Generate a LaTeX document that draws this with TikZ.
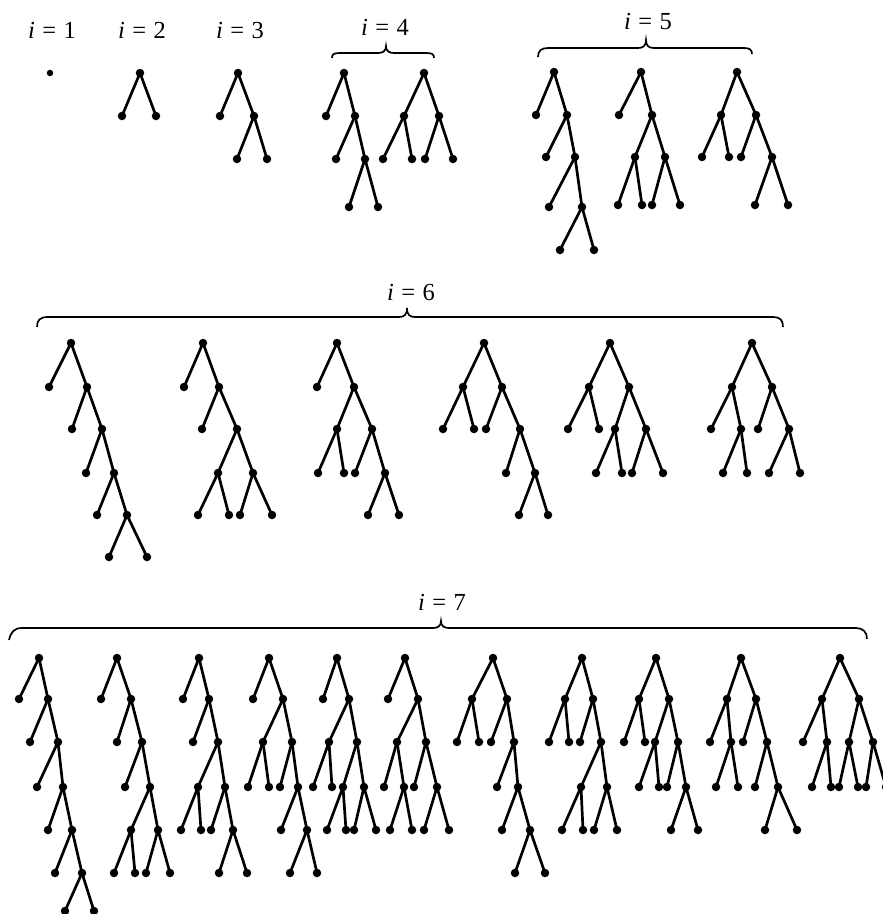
\documentclass[tikz,border=0pt]{standalone}
\usepackage{fontspec}
\setmainfont{Liberation Serif}
\newcommand\mytree[3]{%
  \foreach \n/\x/\y in {#2} {\node[dot] (#1\n) at (\x,\y) {};}
  \foreach \a/\b in {#3} {\draw[edge] (#1\a) -- (#1\b);}
}
\begin{document}
\begin{tikzpicture}[x=1pt,y=-1pt,
  dot/.style={circle,fill=black,inner sep=0pt,minimum size=8.5pt},
  edge/.style={line width=2.7pt,shorten <=-1pt,shorten >=-1pt},
  bracepath/.style={line width=1.7pt},
  lab/.style={anchor=base,font=\fontsize{24.5}{28}\selectfont,inner sep=0pt}]
\useasboundingbox (0,0) rectangle (883,914);
\clip (0,0) rectangle (883,914);

% labels
\node[lab] (l1) at (52,38) {\textit{i}\hspace{0.3em}=\hspace{0.3em}1};
\node[lab] (l2) at (142,38) {\textit{i}\hspace{0.3em}=\hspace{0.3em}2};
\node[lab] (l3) at (240,38) {\textit{i}\hspace{0.3em}=\hspace{0.3em}3};
\node[lab] (l4) at (385,35) {\textit{i}\hspace{0.3em}=\hspace{0.3em}4};
\node[lab] (l5) at (648,29) {\textit{i}\hspace{0.3em}=\hspace{0.3em}5};
\node[lab] (l6) at (411,300) {\textit{i}\hspace{0.3em}=\hspace{0.3em}6};
\node[lab] (l7) at (442,610) {\textit{i}\hspace{0.3em}=\hspace{0.3em}7};

% braces
\draw[bracepath] (332,58) .. controls (332,54) and (334,53) .. (340,53) -- (378,53)
  .. controls (383,53) and (386,51) .. (386,46) .. controls (386,51) and (389,53) .. (394,53)
  -- (426,53) .. controls (432,53) and (434,54) .. (434,58);
\draw[bracepath] (538,57) .. controls (538,51) and (541,48) .. (548,48) -- (638,48)
  .. controls (643,48) and (646,46) .. (646,40) .. controls (646,46) and (649,48) .. (654,48)
  -- (744,48) .. controls (750,48) and (752,50) .. (752,54);
\draw[bracepath] (37,327) .. controls (37,320) and (40,317) .. (48,317) -- (399,317)
  .. controls (404,317) and (407,315) .. (407,308) .. controls (407,315) and (410,317) .. (415,317)
  -- (773,317) .. controls (780,317) and (783,320) .. (783,327);
\draw[bracepath] (9,640) .. controls (11,632) and (14,628) .. (22,628) -- (433,628)
  .. controls (438,628) and (441,626) .. (441,621) .. controls (441,626) and (444,628) .. (449,628)
  -- (856,628) .. controls (863,628) and (867,632) .. (867,639);

% i = 1..5
\node[dot,minimum size=6.5pt] (t1) at (50,73) {};
\mytree{t2}{r/140/73, a/122/116, b/156/116}{r/a, r/b}
\mytree{t3}{r/238/73, a/220/116, b/254/116, c/237/159, d/267/159}{r/a, r/b, b/c, b/d}
\mytree{t4a}{r/344/73, a/326/116, b/355/116, c/336/159, d/365/159, e/349/207, f/378/207}{r/a, r/b, b/c, b/d, d/e, d/f}
\mytree{t4b}{r/424/73, a/404/116, b/439/116, c/383/159, d/412/159, e/425/159, f/453/159}{r/a, r/b, a/c, a/d, b/e, b/f}
\mytree{t5a}{r/554/72, a/536/115, b/567/115, c/546/157, d/575/157, e/549/207, f/582/207, g/560/250, h/594/250}{r/a, r/b, b/c, b/d, d/e, d/f, f/g, f/h}
\mytree{t5b}{r/641/72, a/619/115, b/652/115, c/635/157, d/665/157, e/618/205, f/642/205, g/652/205, h/680/205}{r/a, r/b, b/c, b/d, c/e, c/f, d/g, d/h}
\mytree{t5c}{r/737/72, a/721/115, b/756/115, c/702/157, d/729/157, e/741/157, f/772/157, g/755/205, h/788/205}{r/a, r/b, a/c, a/d, b/e, b/f, f/g, f/h}

% i = 6
\mytree{t6a}{r/71/343, a/49/387, b/87/387, c/72/429, d/102/429, e/86/473, f/114/473, g/97/515, h/127/515, i/109/557, j/147/557}{r/a, r/b, b/c, b/d, d/e, d/f, f/g, f/h, h/i, h/j}
\mytree{t6b}{r/203/343, a/184/387, b/219/387, c/202/429, d/237/429, e/218/473, f/253/473, g/198/515, h/229/515, i/240/515, j/272/515}{r/a, r/b, b/c, b/d, d/e, d/f, e/g, e/h, f/i, f/j}
\mytree{t6c}{r/337/343, a/317/387, b/354/387, c/337/429, d/372/429, e/318/473, f/344/473, g/355/473, h/385/473, i/368/515, j/399/515}{r/a, r/b, b/c, b/d, c/e, c/f, d/g, d/h, h/i, h/j}
\mytree{t6d}{r/484/343, a/463/387, b/502/387, c/443/429, d/474/429, e/486/429, f/520/429, g/506/473, h/535/473, i/519/515, j/548/515}{r/a, r/b, a/c, a/d, b/e, b/f, f/g, f/h, h/i, h/j}
\mytree{t6e}{r/610/343, a/589/387, b/629/387, c/568/429, d/599/429, e/615/429, f/646/429, g/596/473, h/622/473, i/632/473, j/663/473}{r/a, r/b, a/c, a/d, b/e, b/f, e/g, e/h, f/i, f/j}
\mytree{t6f}{r/752/343, a/732/387, b/772/387, c/711/429, d/741/429, e/758/429, f/789/429, g/723/473, h/747/473, i/769/473, j/800/473}{r/a, r/b, a/c, a/d, b/e, b/f, d/g, d/h, f/i, f/j}

% i = 7
\mytree{t7a}{r/39/658, a/19/699, b/48/699, c/30/742, d/58/742, e/37/787, f/63/787, g/48/830, h/72/830, i/55/873, j/82/873, k/65/911, l/94/911}{r/a, r/b, b/c, b/d, d/e, d/f, f/g, f/h, h/i, h/j, j/k, j/l}
\mytree{t7b}{r/117/658, a/101/699, b/131/699, c/117/742, d/142/742, e/125/787, f/150/787, g/131/830, h/158/830, i/114/873, j/135/873, k/146/873, l/170/873}{r/a, r/b, b/c, b/d, d/e, d/f, f/g, f/h, g/i, g/j, h/k, h/l}
\mytree{t7c}{r/199/658, a/183/699, b/209/699, c/193/742, d/218/742, e/198/787, f/225/787, g/181/830, h/201/830, i/211/830, j/233/830, k/219/873, l/247/873}{r/a, r/b, b/c, b/d, d/e, d/f, e/g, e/h, f/i, f/j, j/k, j/l}
\mytree{t7d}{r/269/658, a/253/699, b/283/699, c/263/742, d/292/742, e/248/787, f/269/787, g/280/787, h/298/787, i/281/830, j/307/830, k/290/873, l/317/873}{r/a, r/b, b/c, b/d, c/e, c/f, d/g, d/h, h/i, h/j, j/k, j/l}
\mytree{t7e}{r/337/658, a/323/699, b/349/699, c/329/742, d/357/742, e/313/787, f/332/787, g/343/787, h/364/787, i/327/830, j/346/830, k/354/830, l/376/830}{r/a, r/b, b/c, b/d, c/e, c/f, d/g, d/h, g/i, g/j, h/k, h/l}
\mytree{t7f}{r/405/658, a/388/699, b/418/699, c/397/742, d/426/742, e/384/787, f/404/787, g/414/787, h/437/787, i/390/830, j/412/830, k/424/830, l/449/830}{r/a, r/b, b/c, b/d, c/e, c/f, d/g, d/h, f/i, f/j, h/k, h/l}
\mytree{t7g}{r/493/658, a/472/699, b/507/699, c/457/742, d/479/742, e/491/742, f/514/742, g/497/787, h/518/787, i/502/830, j/530/830, k/515/873, l/545/873}{r/a, r/b, a/c, a/d, b/e, b/f, f/g, f/h, h/i, h/j, j/k, j/l}
\mytree{t7h}{r/582/658, a/565/699, b/593/699, c/549/742, d/569/742, e/580/742, f/601/742, g/581/787, h/607/787, i/562/830, j/583/830, k/594/830, l/617/830}{r/a, r/b, a/c, a/d, b/e, b/f, f/g, f/h, g/i, g/j, h/k, h/l}
\mytree{t7i}{r/656/658, a/639/699, b/669/699, c/624/742, d/645/742, e/655/742, f/678/742, g/639/787, h/659/787, i/667/787, j/686/787, k/671/830, l/698/830}{r/a, r/b, a/c, a/d, b/e, b/f, e/g, e/h, f/i, f/j, j/k, j/l}
\mytree{t7j}{r/741/658, a/727/699, b/756/699, c/710/742, d/731/742, e/743/742, f/767/742, g/716/787, h/738/787, i/755/787, j/778/787, k/765/830, l/797/830}{r/a, r/b, a/c, a/d, b/e, b/f, d/g, d/h, f/i, f/j, j/k, j/l}
\mytree{t7k}{r/840/658, a/822/699, b/859/699, c/803/742, d/827/742, e/849/742, f/873/742, g/812/787, h/831/787, i/839/787, j/858/787, k/866/787, l/886/787}{r/a, r/b, a/c, a/d, b/e, b/f, d/g, d/h, e/i, e/j, f/k, f/l}
\end{tikzpicture}
\end{document}
